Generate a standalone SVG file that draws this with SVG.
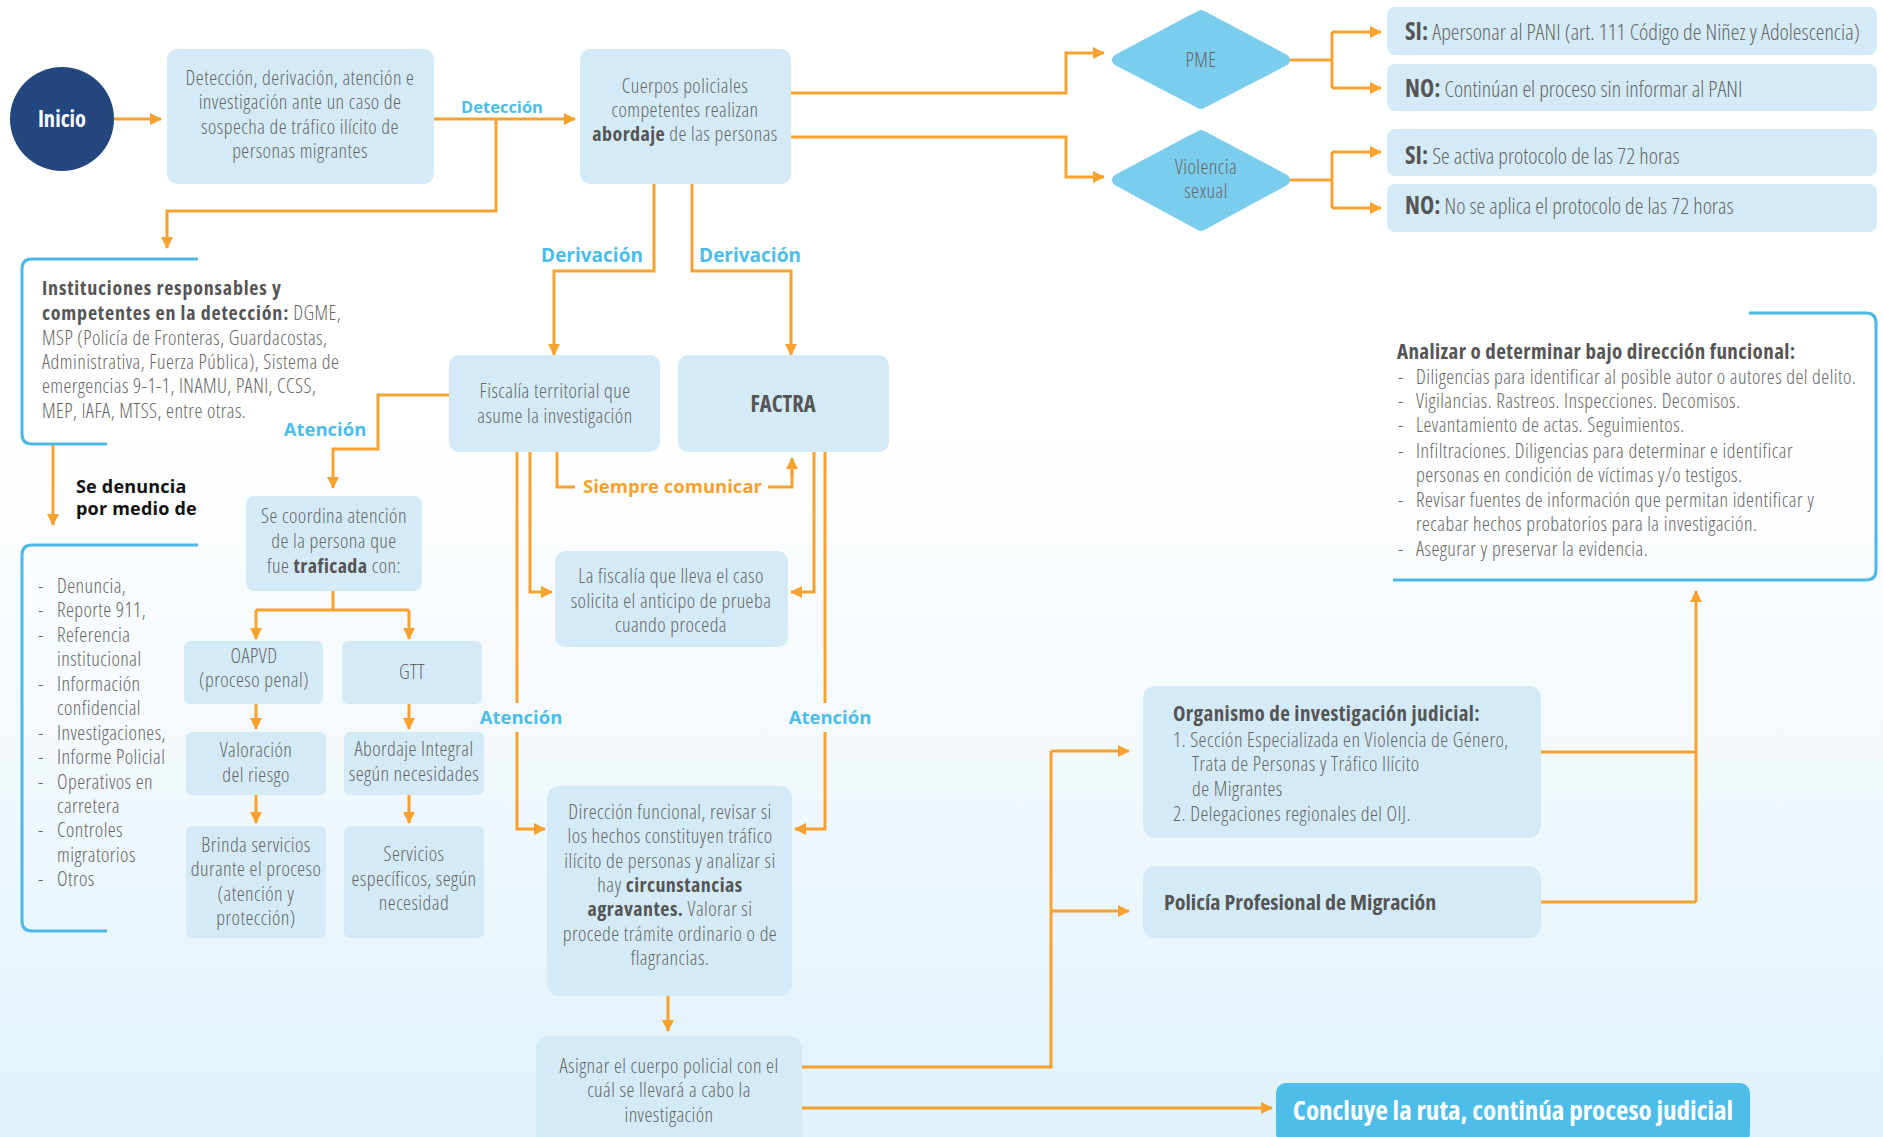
<svg xmlns="http://www.w3.org/2000/svg" width="1883" height="1137" viewBox="0 0 1883 1137">
<defs>
<linearGradient id="bg" x1="0" y1="0" x2="0" y2="1">
<stop offset="0" stop-color="#ffffff"/>
<stop offset="0.38" stop-color="#ffffff"/>
<stop offset="0.65" stop-color="#f3f9fd"/>
<stop offset="1" stop-color="#dff2fa"/>
</linearGradient>
<marker id="ah" markerUnits="userSpaceOnUse" markerWidth="14" markerHeight="14" refX="11" refY="7" orient="auto">
<path d="M0,1 L12,7 L0,13 z" fill="#f7a12f"/>
</marker>
<style>
.bx{fill:#d4ebf7}
.t{font-family:"Open Sans","Liberation Sans",sans-serif;font-stretch:condensed;font-weight:300;font-size:20px;letter-spacing:0.45px;fill:#666}
.m{text-anchor:middle}
.b{font-weight:700;fill:#555}
.n{letter-spacing:0}
.lbl{font-family:"Open Sans","Liberation Sans",sans-serif;font-weight:700;fill:#4bbde8}
.cn{fill:none;stroke:#f7a12f;stroke-width:3}
.ar{marker-end:url(#ah)}
.br{fill:none;stroke:#4db8e6;stroke-width:3}
.dm{fill:#7bcdee;stroke:#7bcdee;stroke-width:12;stroke-linejoin:round}
</style>
</defs>
<rect x="0" y="0" width="1883" height="1137" fill="url(#bg)"/>

<g id="connectors">
<path class="cn ar" d="M114,119 H161"/>
<path class="cn ar" d="M434,119 H575"/>
<path class="cn ar" d="M496,119 V211 H167 V248"/>
<path class="cn ar" d="M790,93 H1066 V53 H1104"/>
<path class="cn ar" d="M790,137 H1066 V177 H1104"/>
<path class="cn" d="M1290,60 H1332 M1332,32 V88 M1290,180 H1332 M1332,152 V208"/>
<path class="cn ar" d="M1332,32 H1381"/>
<path class="cn ar" d="M1332,88 H1381"/>
<path class="cn ar" d="M1332,152 H1381"/>
<path class="cn ar" d="M1332,208 H1381"/>
<path class="cn ar" d="M654,184 V271 H554 V355"/>
<path class="cn ar" d="M692,184 V271 H791 V355"/>
<path class="cn ar" d="M449,395 H378 V449 H333 V488"/>
<path class="cn" d="M333,591 V610 M256,610 H409"/>
<path class="cn ar" d="M256,610 V639"/>
<path class="cn ar" d="M409,610 V639"/>
<path class="cn ar" d="M256,704 V729"/>
<path class="cn ar" d="M409,704 V729"/>
<path class="cn ar" d="M256,795 V823"/>
<path class="cn ar" d="M409,795 V823"/>
<path class="cn ar" d="M53,445 V525"/>
<path class="cn" d="M557,452 V487 H575 M768,487 H792 V470"/>
<path class="cn ar" d="M792,475 V458"/>
<path class="cn ar" d="M530,452 V592 H552"/>
<path class="cn ar" d="M814,452 V592 H791"/>
<path class="cn" d="M517,452 V703 M825,452 V703"/>
<path class="cn ar" d="M517,732 V829 H545"/>
<path class="cn ar" d="M825,732 V829 H795"/>
<path class="cn ar" d="M668,996 V1031"/>
<path class="cn" d="M802,1067 H1051 V751"/>
<path class="cn ar" d="M1051,751 H1129"/>
<path class="cn ar" d="M1051,911 H1129"/>
<path class="cn ar" d="M802,1108 H1272"/>
<path class="cn" d="M1541,752 H1696 M1541,902 H1696"/>
<path class="cn ar" d="M1696,902 V591"/>
<text class="lbl m" x="502" y="113" font-size="16.5">Detección</text>
<text class="lbl m" x="592" y="262" font-size="19">Derivación</text>
<text class="lbl m" x="750" y="262" font-size="19">Derivación</text>
<text class="lbl m" x="325" y="436" font-size="18.5">Atención</text>
<text class="lbl m" x="521" y="724" font-size="18.5">Atención</text>
<text class="lbl m" x="830" y="724" font-size="18.5">Atención</text>
<text class="lbl" x="583" y="493" font-size="18.5" style="fill:#f7a12f">Siempre comunicar</text>
</g>

<g id="inicio">
<circle cx="62" cy="119" r="52" fill="#23467e"/>
<text class="t m n" x="62" y="127" style="font-weight:700;fill:#fff;font-size:22.5px">Inicio</text>
</g>

<g id="deteccion">
<rect class="bx" x="167" y="49" width="267" height="135" rx="10"/>
<text class="t m" x="300" y="85">Detección, derivación, atención e</text>
<text class="t m" x="300" y="109">investigación ante un caso de</text>
<text class="t m" x="300" y="134">sospecha de tráfico ilícito de</text>
<text class="t m" x="300" y="158">personas migrantes</text>
</g>

<g id="cuerpos">
<rect class="bx" x="580" y="49" width="211" height="135" rx="10"/>
<text class="t m" x="685" y="93">Cuerpos policiales</text>
<text class="t m" x="685" y="117">competentes realizan</text>
<text class="t m" x="685" y="141"><tspan class="b">abordaje</tspan> de las personas</text>
</g>

<g id="pme">
<polygon class="dm" points="1201,16 1284,60 1201,103 1118,60"/>
<text class="t m" x="1201" y="67">PME</text>
</g>
<g id="violencia">
<polygon class="dm" points="1201,136 1284,180 1201,225 1118,180"/>
<text class="t m" x="1206" y="174">Violencia</text>
<text class="t m" x="1206" y="198">sexual</text>
</g>

<g id="pme-si">
<rect class="bx" x="1387" y="7" width="490" height="48" rx="8"/>
<text class="t n" x="1405" y="40" style="font-size:22px"><tspan class="b" style="font-size:24px">SI:</tspan> Apersonar al PANI (art. 111 Código de Niñez y Adolescencia)</text>
</g>
<g id="pme-no">
<rect class="bx" x="1387" y="64" width="490" height="47" rx="8"/>
<text class="t n" x="1405" y="97" style="font-size:22px"><tspan class="b" style="font-size:24px">NO:</tspan> Continúan el proceso sin informar al PANI</text>
</g>
<g id="vs-si">
<rect class="bx" x="1387" y="129" width="490" height="47" rx="8"/>
<text class="t n" x="1405" y="164" style="font-size:22px"><tspan class="b" style="font-size:24px">SI:</tspan> Se activa protocolo de las 72 horas</text>
</g>
<g id="vs-no">
<rect class="bx" x="1387" y="184" width="490" height="48" rx="8"/>
<text class="t n" x="1405" y="214" style="font-size:22px"><tspan class="b" style="font-size:24px">NO:</tspan> No se aplica el protocolo de las 72 horas</text>
</g>

<g id="instituciones">
<path class="br" d="M198,259 H32 Q22,259 22,269 V434 Q22,444 32,444 H107"/>
<text class="t b" x="42" y="295" style="font-size:20px;letter-spacing:0.8px">Instituciones responsables y</text>
<text class="t" x="42" y="320"><tspan class="b" style="font-size:20px;letter-spacing:0.8px">competentes en la detección:</tspan> DGME,</text>
<text class="t" x="42" y="345">MSP (Policía de Fronteras, Guardacostas,</text>
<text class="t" x="42" y="369">Administrativa, Fuerza Pública), Sistema de</text>
<text class="t" x="42" y="393">emergencias 9-1-1, INAMU, PANI, CCSS,</text>
<text class="t" x="42" y="418">MEP, IAFA, MTSS, entre otras.</text>
</g>

<g id="se-denuncia">
<text x="76" y="493" style="font-family:'Open Sans','Liberation Sans',sans-serif;font-weight:700;font-size:18px;letter-spacing:0.2px;fill:#111">Se denuncia</text>
<text x="76" y="515" style="font-family:'Open Sans','Liberation Sans',sans-serif;font-weight:700;font-size:18px;letter-spacing:0.2px;fill:#111">por medio de</text>
</g>

<g id="medios">
<path class="br" d="M198,545 H32 Q22,545 22,555 V921 Q22,931 32,931 H107"/>
<text class="t" x="38" y="593">-</text><text class="t" x="57" y="593">Denuncia,</text>
<text class="t" x="38" y="617">-</text><text class="t" x="57" y="617">Reporte 911,</text>
<text class="t" x="38" y="642">-</text><text class="t" x="57" y="642">Referencia</text>
<text class="t" x="57" y="666">institucional</text>
<text class="t" x="38" y="691">-</text><text class="t" x="57" y="691">Información</text>
<text class="t" x="57" y="715">confidencial</text>
<text class="t" x="38" y="740">-</text><text class="t" x="57" y="740">Investigaciones,</text>
<text class="t" x="38" y="764">-</text><text class="t" x="57" y="764">Informe Policial</text>
<text class="t" x="38" y="789">-</text><text class="t" x="57" y="789">Operativos en</text>
<text class="t" x="57" y="813">carretera</text>
<text class="t" x="38" y="837">-</text><text class="t" x="57" y="837">Controles</text>
<text class="t" x="57" y="862">migratorios</text>
<text class="t" x="38" y="886">-</text><text class="t" x="57" y="886">Otros</text>
</g>

<g id="fiscalia">
<rect class="bx" x="449" y="355" width="211" height="97" rx="10"/>
<text class="t m" x="555" y="398">Fiscalía territorial que</text>
<text class="t m" x="555" y="423">asume la investigación</text>
</g>
<g id="factra">
<rect class="bx" x="678" y="355" width="211" height="97" rx="10"/>
<text class="t m b n" x="783" y="412" style="font-size:22.5px">FACTRA</text>
</g>

<g id="coordina">
<rect class="bx" x="246" y="496" width="176" height="95" rx="8"/>
<text class="t m" x="334" y="523">Se coordina atención</text>
<text class="t m" x="334" y="548">de la persona que</text>
<text class="t m" x="334" y="573">fue <tspan class="b">traficada</tspan> con:</text>
</g>

<g id="oapvd">
<rect class="bx" x="184" y="641" width="139" height="63" rx="6"/>
<text class="t m" x="254" y="663">OAPVD</text>
<text class="t m" x="254" y="687">(proceso penal)</text>
</g>
<g id="gtt">
<rect class="bx" x="342" y="641" width="140" height="63" rx="6"/>
<text class="t m" x="412" y="679">GTT</text>
</g>
<g id="valoracion">
<rect class="bx" x="186" y="732" width="140" height="63" rx="6"/>
<text class="t m" x="256" y="757">Valoración</text>
<text class="t m" x="256" y="782">del riesgo</text>
</g>
<g id="abordaje">
<rect class="bx" x="344" y="732" width="140" height="63" rx="6"/>
<text class="t m" x="414" y="756">Abordaje Integral</text>
<text class="t m" x="414" y="781">según necesidades</text>
</g>
<g id="brinda">
<rect class="bx" x="186" y="826" width="140" height="112" rx="6"/>
<text class="t m" x="256" y="852">Brinda servicios</text>
<text class="t m" x="256" y="876">durante el proceso</text>
<text class="t m" x="256" y="901">(atención y</text>
<text class="t m" x="256" y="925">protección)</text>
</g>
<g id="servicios">
<rect class="bx" x="344" y="826" width="140" height="112" rx="6"/>
<text class="t m" x="414" y="861">Servicios</text>
<text class="t m" x="414" y="886">específicos, según</text>
<text class="t m" x="414" y="910">necesidad</text>
</g>

<g id="anticipo">
<rect class="bx" x="555" y="551" width="233" height="96" rx="10"/>
<text class="t m" x="671" y="583">La fiscalía que lleva el caso</text>
<text class="t m" x="671" y="608">solicita el anticipo de prueba</text>
<text class="t m" x="671" y="632">cuando proceda</text>
</g>

<g id="direccion">
<rect class="bx" x="547" y="786" width="245" height="210" rx="12"/>
<text class="t m" x="670" y="819">Dirección funcional, revisar si</text>
<text class="t m" x="670" y="843">los hechos constituyen tráfico</text>
<text class="t m" x="670" y="868">ilícito de personas y analizar si</text>
<text class="t m" x="670" y="892">hay <tspan class="b">circunstancias</tspan></text>
<text class="t m" x="670" y="916"><tspan class="b">agravantes.</tspan> Valorar si</text>
<text class="t m" x="670" y="941">procede trámite ordinario o de</text>
<text class="t m" x="670" y="965">flagrancias.</text>
</g>

<g id="asignar">
<rect class="bx" x="536" y="1036" width="266" height="120" rx="12"/>
<text class="t m" x="669" y="1073">Asignar el cuerpo policial con el</text>
<text class="t m" x="669" y="1097">cuál se llevará a cabo la</text>
<text class="t m" x="669" y="1122">investigación</text>
</g>

<g id="oij">
<rect class="bx" x="1143" y="686" width="398" height="152" rx="12"/>
<text class="t b" x="1173" y="721" style="font-size:21px;letter-spacing:0.4px">Organismo de investigación judicial:</text>
<text class="t" x="1173" y="747">1. Sección Especializada en Violencia de Género,</text>
<text class="t" x="1192" y="771">Trata de Personas y Tráfico Ilícito</text>
<text class="t" x="1192" y="796">de Migrantes</text>
<text class="t" x="1173" y="821">2. Delegaciones regionales del OIJ.</text>
</g>

<g id="policia">
<rect class="bx" x="1143" y="866" width="398" height="72" rx="12"/>
<text class="t b n" x="1164" y="910" style="font-size:22px">Policía Profesional de Migración</text>
</g>

<g id="analizar">
<path class="br" d="M1749,313 H1866 Q1876,313 1876,323 V570 Q1876,580 1866,580 H1393"/>
<text class="t b" x="1397" y="359" style="font-size:21px;letter-spacing:0.4px">Analizar o determinar bajo dirección funcional:</text>
<text class="t" x="1398" y="384">-</text><text class="t" x="1416" y="384">Diligencias para identificar al posible autor o autores del delito.</text>
<text class="t" x="1398" y="408">-</text><text class="t" x="1416" y="408">Vigilancias. Rastreos. Inspecciones. Decomisos.</text>
<text class="t" x="1398" y="432">-</text><text class="t" x="1416" y="432">Levantamiento de actas. Seguimientos.</text>
<text class="t" x="1398" y="458">-</text><text class="t" x="1416" y="458">Infiltraciones. Diligencias para determinar e identificar</text>
<text class="t" x="1416" y="482">personas en condición de víctimas y/o testigos.</text>
<text class="t" x="1398" y="507">-</text><text class="t" x="1416" y="507">Revisar fuentes de información que permitan identificar y</text>
<text class="t" x="1416" y="531">recabar hechos probatorios para la investigación.</text>
<text class="t" x="1398" y="556">-</text><text class="t" x="1416" y="556">Asegurar y preservar la evidencia.</text>
</g>

<g id="concluye">
<rect x="1276" y="1083" width="474" height="60" rx="10" fill="#4ebde9"/>
<text class="t m n" x="1513" y="1120" style="font-weight:700;fill:#fff;font-size:27px">Concluye la ruta, continúa proceso judicial</text>
</g>
</svg>
